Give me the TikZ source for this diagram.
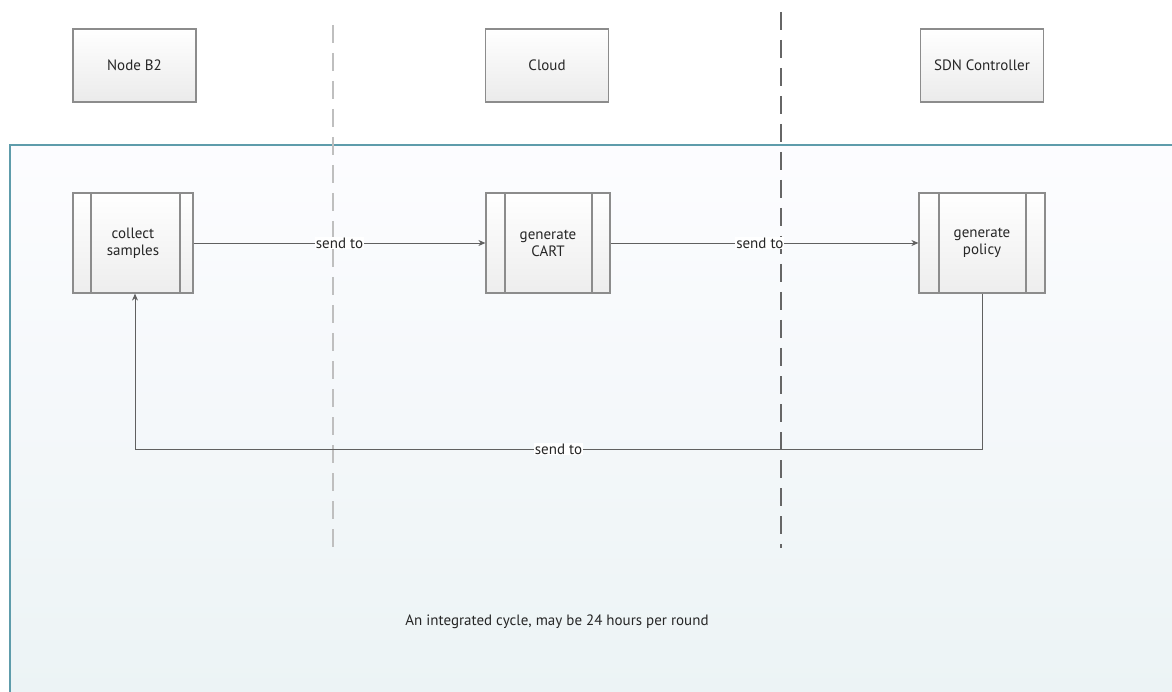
\documentclass[tikz,border=0pt]{standalone}
\usepackage{fontspec}
\setmainfont{PT Sans}
\usetikzlibrary{arrows.meta}
\definecolor{boxline}{HTML}{8C8C8C}
\definecolor{teal1}{HTML}{5E9CAB}
\definecolor{conn}{HTML}{606060}
\newcommand{\dfont}{\fontsize{15}{17}\selectfont}
\tikzset{
  x=1pt, y=-1pt,
  lane/.style={draw=boxline, line width=1.2pt, top color=white, bottom color=black!8,
    minimum width=123pt, minimum height=73pt, font=\dfont, text=black!85, inner sep=0pt},
  proc/.style={draw=boxline, line width=1.2pt, top color=white, bottom color=black!7,
    minimum width=122pt, minimum height=100pt, align=center,
    font=\dfont, text=black!85, inner sep=0pt},
  conn/.style={draw=conn, line width=0.9pt, -{Stealth[length=7pt,width=6pt]}},
  lbl/.style={fill=white, inner sep=1pt, font=\dfont, text=black!85},
  divl/.style={line width=1.1pt, dash pattern=on 18pt off 10pt},
}
\begin{document}
\begin{tikzpicture}
\useasboundingbox (0,0) rectangle (1172,692);
% container
\path[top color=black!2!blue!1!white, bottom color=teal1!12!white] (10,145) rectangle (1180,700);
\draw[teal1, line width=1.5pt] (1180,145) -- (10,145) -- (10,700);
% dividers
\draw[divl, draw=black!25] (333,25) -- (333,548);
\draw[divl, draw=black!60] (781,12) -- (781,548);
% lanes
\node[lane] (nb) at (134.5,65.5) {Node B2};
\node[lane] (cl) at (547,65.5) {Cloud};
\node[lane] (sdn) at (982,65.5) {SDN Controller};
% processes
\node[proc, minimum width=120pt] (cs) at (133,243) {collect\\samples};
\draw[boxline, line width=1.2pt] (91,193) -- (91,293) (180,193) -- (180,293);
\node[proc, minimum width=124pt] (gc) at (548,243) {generate\\CART};
\draw[boxline, line width=1.2pt] (505,193) -- (505,293) (592,193) -- (592,293);
\node[proc, minimum width=126pt] (gp) at (982,243) {generate\\policy};
\draw[boxline, line width=1.2pt] (939,193) -- (939,293) (1026,193) -- (1026,293);
% connectors
\draw[conn] (cs.east) -- node[lbl, pos=0.5] {send to} (gc.west);
\draw[conn] (gc.east) -- node[lbl, pos=0.485] {send to} (gp.west);
\coordinate (r1) at (982,449);
\coordinate (r2) at (135,449);
\draw[conn] (gp.south) -- (r1) -- node[lbl, pos=0.5] {send to} (r2) -- (cs.south -| r2);
% caption
\node[font=\dfont, text=black!85] (cap) at (557,622) {An integrated cycle, may be 24 hours per round};
\end{tikzpicture}
\end{document}
